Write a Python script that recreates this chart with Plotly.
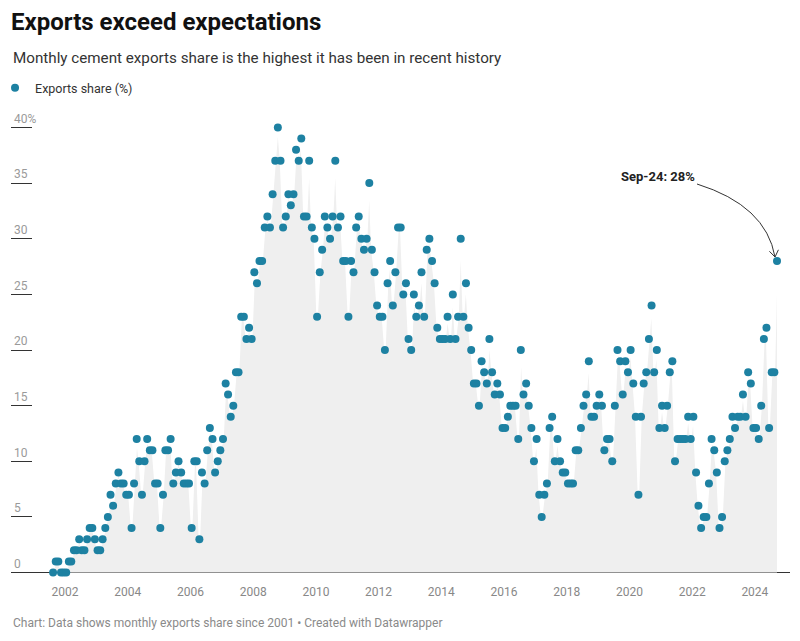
import pandas as pd
import plotly.graph_objects as go

# ---- data ----
start_month = "2001-08-01"
share = [
    0, 1, 1, 0, 0, 0, 1, 1, 2, 2, 3, 2, 2, 3, 4, 4, 3, 2, 2, 3,
    4, 5, 7, 6, 8, 9, 8, 8, 7, 7, 4, 8, 12, 10, 7, 10, 12, 11, 11, 8,
    8, 4, 7, 11, 11, 12, 8, 9, 10, 9, 8, 8, 8, 4, 10, 10, 3, 9, 8, 11,
    13, 12, 9, 10, 11, 12, 17, 16, 14, 15, 18, 18, 23, 23, 21, 22, 21, 27, 26, 28,
    28, 31, 32, 31, 34, 37, 40, 37, 31, 32, 34, 33, 34, 38, 37, 39, 32, 32, 37, 31,
    30, 23, 27, 29, 32, 31, 30, 32, 37, 31, 32, 28, 28, 23, 28, 27, 31, 32, 30, 29,
    30, 35, 29, 27, 24, 23, 23, 20, 26, 28, 24, 27, 31, 31, 25, 26, 21, 20, 25, 23,
    24, 27, 23, 29, 30, 28, 26, 22, 21, 21, 21, 23, 21, 25, 21, 23, 30, 23, 26, 22,
    20, 17, 17, 15, 19, 18, 17, 21, 18, 16, 17, 16, 13, 13, 14, 15, 15, 15, 12, 20,
    16, 17, 15, 13, 10, 12, 7, 5, 7, 8, 13, 14, 10, 12, 10, 9, 9, 8, 8, 8,
    11, 11, 13, 15, 16, 19, 14, 14, 15, 16, 15, 11, 12, 12, 10, 15, 20, 19, 16, 19,
    18, 20, 17, 14, 7, 14, 17, 18, 21, 24, 18, 20, 13, 15, 13, 15, 18, 19, 10, 12,
    12, 12, 12, 14, 12, 14, 9, 6, 4, 5, 5, 8, 12, 11, 9, 4, 5, 10, 11, 12,
    14, 13, 14, 14, 16, 14, 18, 17, 13, 13, 12, 15, 21, 22, 13, 18, 18, 28,
]
series_name = "Exports share (%)"
year_ticks = list(range(2002, 2025, 2))
year_labels = [str(y) for y in year_ticks]
y_ticks = [0, 5, 10, 15, 20, 25, 30, 35, 40]
y_labels = ["0", "5", "10", "15", "20", "25", "30", "35", "40%"]
callout_text = "Sep-24: 28%"

dates = pd.date_range(start_month, periods=len(share), freq="MS") + pd.Timedelta(days=14)
tick_dates = [pd.Timestamp(f"{y}-01-01") for y in year_ticks]

DOT = "#1d81a2"
FONT = "Roboto"

fig = go.Figure()
fig.add_trace(go.Scatter(
    x=dates, y=share, mode="lines",
    line=dict(color="white", width=1.5),
    fill="tozeroy", fillcolor="#efefef",
    showlegend=False, hoverinfo="skip",
))
fig.add_trace(go.Scatter(
    x=dates, y=share, mode="markers", name=series_name,
    marker=dict(color=DOT, size=8, line=dict(width=0)),
    cliponaxis=False,
))

M_T, M_B = 103, 64
plot_h = 641 - M_T - M_B


def ypx(px):
    return (641 - M_B - px) / plot_h


last_x = dates[-1]
last_y = share[-1]

fig.update_layout(
    width=800, height=641,
    margin=dict(l=11, r=10, t=M_T, b=M_B, autoexpand=False),
    paper_bgcolor="white", plot_bgcolor="white",
    font=dict(family=FONT, color="#333"),
    title=dict(
        text="<b>Exports exceed expectations</b>",
        xref="container", yref="container",
        x=11 / 800, xanchor="left", y=1 - 22 / 641, yanchor="middle",
        font=dict(family=FONT, size=24, color="#111"),
    ),
    showlegend=True,
    legend=dict(
        x=-0.0205, y=ypx(88), xanchor="left", yanchor="middle",
        font=dict(family=FONT, size=12.5, color="#333"),
        bgcolor="rgba(0,0,0,0)", borderwidth=0,
    ),
    xaxis=dict(
        type="date",
        range=["2000-04-11 19:00", "2025-02-13 07:00"],
        tickvals=tick_dates, ticktext=year_labels,
        showgrid=False, zeroline=False, showline=False, ticks="",
        tickfont=dict(family=FONT, size=12, color="#888"),
        ticklabelstandoff=6,
    ),
    yaxis=dict(
        range=[-0.4, 42.2],
        tickvals=y_ticks, ticktext=y_labels,
        showgrid=False, showline=False,
        zeroline=True, zerolinecolor="#333", zerolinewidth=1,
        ticks="inside", ticklen=21, tickcolor="#333", tickwidth=1,
        ticklabelposition="inside top",
        tickfont=dict(family=FONT, size=12, color="#9a9a9a"),
    ),
    annotations=[
        dict(
            text="Monthly cement exports share is the highest it has been in recent history",
            xref="paper", yref="paper", x=0, y=ypx(58), xanchor="left", yanchor="middle",
            showarrow=False, font=dict(family=FONT, size=15.2, color="#333"),
        ),
        dict(
            text="Chart: Data shows monthly exports share since 2001 • Created with Datawrapper",
            xref="paper", yref="paper", x=0, y=ypx(623), xanchor="left", yanchor="middle",
            showarrow=False, font=dict(family=FONT, size=12, color="#8a8a8a"),
        ),
        dict(
            text="<b>" + callout_text + "</b>",
            xref="x", yref="y", x=last_x, y=last_y,
            xanchor="right", yanchor="middle", xshift=-80, yshift=85,
            showarrow=False, font=dict(family=FONT, size=13, color="#222"),
        ),
    ],
    shapes=[
        dict(
            type="path", xref="x", yref="y",
            xsizemode="pixel", ysizemode="pixel",
            xanchor=last_x, yanchor=last_y,
            path="M -80,77 Q -11,55.5 -2,4 M -7.6,9.7 L -2,4 L 1.4,11.2",
            line=dict(color="#333", width=1), fillcolor="rgba(0,0,0,0)",
        ),
    ],
)

fig.write_html(
    "out.html",
    config={"displayModeBar": False},
    post_script="document.body.style.margin='0';document.body.style.padding='0';",
)
